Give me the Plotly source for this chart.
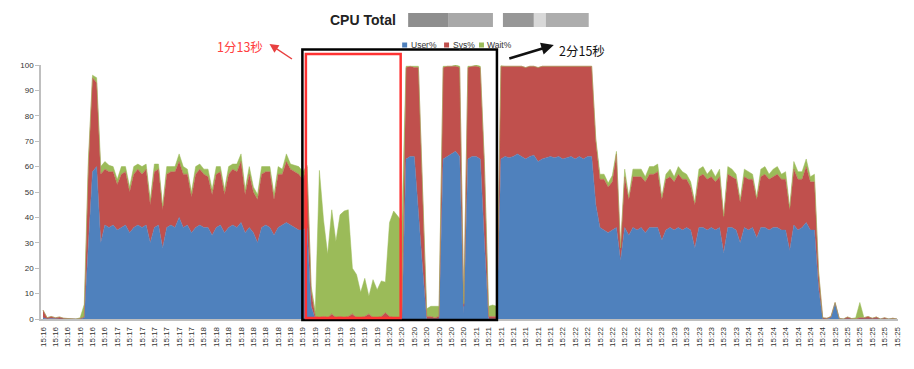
import plotly.graph_objects as go

# ---------------- data ----------------
time_labels = [
    "15:16", "15:16", "15:16", "15:16", "15:16", "15:16",
    "15:17", "15:17", "15:17", "15:17", "15:17", "15:17", "15:17",
    "15:18", "15:18", "15:18", "15:18", "15:18", "15:18", "15:18", "15:18",
    "15:19", "15:19", "15:19", "15:19", "15:19", "15:19", "15:19",
    "15:20", "15:20", "15:20", "15:20", "15:20", "15:20", "15:20",
    "15:21", "15:21", "15:21", "15:21", "15:21", "15:21", "15:21",
    "15:22", "15:22", "15:22", "15:22", "15:22", "15:22", "15:22", "15:22",
    "15:23", "15:23", "15:23", "15:23", "15:23", "15:23", "15:23",
    "15:24", "15:24", "15:24", "15:24", "15:24", "15:24", "15:24",
    "15:25", "15:25", "15:25", "15:25", "15:25", "15:25",
]

user = [
    0.5, 0, 0.2, 0, 0, 0, 0, 0, 0, 0, 0.5, 30, 58, 60, 30,
    37, 36, 37, 35, 36, 37, 34, 36, 37, 36, 37, 30, 36, 37, 28, 36, 37, 36, 40, 36,
    37, 34, 36, 37, 36, 36, 33, 36, 37, 34, 36, 37, 36, 38, 34, 36, 34, 30, 36, 37,
    36, 33, 36, 37, 38, 37, 36, 35, 35, 36, 5,
    0, 0, 0, 0, 0, 0, 0, 0, 0, 0, 0, 0, 0, 0, 0, 0, 0, 0.5, 0, 0, 0, 0,
    63, 64, 64, 40, 20, 0, 0, 0, 0,
    63, 64, 65, 66, 64, 2,
    63, 64, 64, 63, 30, 0, 0, 0,
    63, 64, 63.5, 64, 65, 64, 63, 64, 64.5, 62, 63, 63.5, 64, 63.5, 64, 63, 63.5,
    64, 63, 64, 63, 64, 64, 45,
    36, 35, 34, 35, 36, 23, 36, 33, 36, 35, 36, 34, 36, 36, 36, 31, 35, 36, 35, 36,
    35, 36, 35, 28, 36, 36, 35, 36, 35, 36, 26, 36, 36, 35, 30, 36, 35, 36, 32, 36,
    36, 35, 36, 36, 35, 35, 27, 37, 35, 36, 38, 35, 35, 12,
    0, 0, 0.5, 6, 0, 0, 0, 0, 0, 0, 0, 0, 0, 0, 0, 0, 0, 0, 0,
]

sys_pct = [
    3, 0.5, 0.8, 0.5, 0.8, 0.3, 0.2, 0, 0, 0.2, 0.3, 30, 37, 33, 27,
    22, 22, 21, 18, 21, 21, 16, 21, 22, 21, 22, 15, 22, 22, 15, 21, 21, 22, 22, 21,
    20, 14, 21, 22, 21, 20, 16, 21, 21, 15, 21, 22, 22, 24, 15, 21, 16, 17, 21, 21,
    22, 14, 21, 20, 24, 22, 22, 22, 20, 24, 6,
    1, 0.5, 1, 0.5, 2, 0.5, 1, 0.5, 1, 2, 0.5, 0.5, 1, 2, 0.5, 0.5, 1, 2, 1, 0.5, 0.5, 0.5,
    36, 35.5, 35, 59, 30, 1, 1, 0.5, 1,
    36, 35.5, 34.5, 33.5, 35, 3,
    36, 35.5, 35.5, 36, 30, 1, 1, 1,
    36.5, 35.5, 36, 35.5, 34.5, 35.5, 36, 35.5, 35, 37, 36.5, 36, 35.5, 36, 35.5, 36.5, 36,
    35.5, 36.5, 35.5, 36.5, 35.5, 35.5, 25,
    19, 20, 18, 19, 29, 5, 20, 14, 20, 21, 20, 20, 21, 21, 22, 16, 20, 20, 19, 21,
    20, 19, 17, 17, 20, 21, 20, 20, 19, 20, 14, 21, 20, 20, 16, 20, 20, 19, 15, 20,
    21, 20, 20, 21, 20, 20, 16, 22, 20, 19, 22, 19, 19, 6,
    0.5, 0.3, 0.5, 0.5, 0.3, 0, 0.8, 0.2, 0, 0.5, 0.5, 1, 0.3, 0.8, 0, 0.5, 0, 0.3, 0,
]

wait = [
    0, 0, 0, 0, 0, 0, 0, 0, 0, 0.3, 5, 3, 1, 2, 3,
    3, 2.5, 2, 2, 3, 2, 2, 3, 2, 3, 2, 2, 3, 2, 1.5, 3, 2, 2, 3, 3,
    2, 2, 3, 2, 2, 3, 2, 3, 2, 2, 3, 2, 3, 3, 2, 3, 2, 2, 3, 2,
    2, 2, 3, 2, 3, 2, 2.5, 3, 3, 0.5, 2,
    2, 58, 38, 25, 41, 30, 40, 42, 42, 18, 17, 10, 15, 7, 15, 11, 14, 12, 37, 42, 40, 38,
    0.5, 0, 0.5, 0.5, 2, 3, 4, 4.5, 4,
    0.5, 0, 0, 0.5, 0.5, 1,
    0.5, 0, 0.5, 0.5, 2, 4, 4.5, 4,
    0.2, 0, 0, 0, 0, 0, 0, 0, 0, 0, 0, 0, 0, 0, 0, 0, 0,
    0, 0, 0, 0, 0, 0, 1,
    2, 2, 1.5, 2.5, 1, 0, 3, 1, 3, 3, 3, 2, 3, 3, 3, 1, 2, 3, 2, 3,
    3, 2, 2, 1, 3, 3, 2, 3, 2, 3, 0.5, 3, 3, 2, 1, 3, 3, 2, 1, 3,
    3, 2, 3, 3, 2, 3, 1, 3, 3, 3, 3, 2, 3, 1,
    0, 0, 0, 0, 0, 0, 0, 0, 0.5, 6, 0, 0, 0, 0, 0, 0, 0, 0, 0,
]

series_names = ["User%", "Sys%", "Wait%"]
series_colors = ["#4F81BD", "#C0504D", "#9BBB59"]

# ---------------- figure ----------------
# the page body adds an 8 px margin, so the figure is laid out in page pixels minus OFF
OFF = 8
W, H = 914 - OFF, 369 - OFF
ML, MR, MT, MB = 39 - OFF, 16, 65 - OFF, 50
PW, PH = W - ML - MR, H - MT - MB


def px_x(px):
    return (px - OFF - ML) / PW


def px_y(py):
    return (H - MB - (py - OFF)) / PH


n = len(user)
xs = list(range(n))
label_step = 3
tickvals = xs[::label_step]

fig = go.Figure()
for name, vals, color in zip(series_names, [user, sys_pct, wait], series_colors):
    fig.add_trace(go.Scatter(
        x=xs, y=vals, name=name, mode="lines", stackgroup="cpu",
        line=dict(width=0.5, color=color), fillcolor=color, showlegend=False,
        hoverinfo="skip",
    ))

fig.update_layout(
    width=W, height=H,
    margin=dict(l=ML, r=MR, t=MT, b=MB),
    paper_bgcolor="white", plot_bgcolor="white",
    font=dict(family="Liberation Sans, Arial, sans-serif", color="#333333"),
    title=dict(text="<b>CPU Total</b>", x=(330 - OFF) / W, xanchor="left", xref="container",
               y=1 - (20 - OFF) / H, yanchor="middle", yref="container",
               font=dict(size=14, color="#222222", family="Liberation Sans, Arial, sans-serif")),
    xaxis=dict(
        range=[-0.484, 207.25], tickmode="array", tickvals=tickvals,
        ticktext=time_labels, tickangle=-90, tickfont=dict(size=8, color="#333333"),
        showline=True, linecolor="#bfbfbf", linewidth=1.5, showgrid=False,
        zeroline=False, ticks="outside", ticklen=3, tickcolor="rgba(0,0,0,0)",
    ),
    yaxis=dict(
        range=[0, 100], dtick=10, tick0=0, ticks="outside", ticklen=4,
        tickcolor="#bfbfbf", showline=True, linecolor="#bfbfbf", linewidth=1.5,
        showgrid=False, zeroline=False, tickfont=dict(size=8, color="#333333"),
    ),
)

shapes = []
# redacted part of the title (blurred in the reference)
for x0, x1, col in [(407, 447, "#8e8e8e"), (447, 492, "#a8a8a8"),
                    (502, 533, "#979797"), (533, 545, "#d8d8d8"), (545, 588, "#adadad")]:
    shapes.append(dict(type="rect", xref="paper", yref="paper",
                       x0=px_x(x0), x1=px_x(x1), y0=px_y(27), y1=px_y(13),
                       line=dict(width=0), fillcolor=col, layer="above"))
# legend squares
legend_pos = [401, 443, 478]
for lx, col in zip(legend_pos, series_colors):
    shapes.append(dict(type="rect", xref="paper", yref="paper",
                       x0=px_x(lx), x1=px_x(lx + 5), y0=px_y(47.5), y1=px_y(42.5),
                       line=dict(width=0), fillcolor=col, layer="above"))
# highlight boxes
shapes.append(dict(type="rect", xref="paper", yref="paper",
                   x0=px_x(301), x1=px_x(496), y0=px_y(320), y1=px_y(49.5),
                   line=dict(color="black", width=2.5), fillcolor="rgba(0,0,0,0)", layer="above"))
shapes.append(dict(type="rect", xref="paper", yref="paper",
                   x0=px_x(304.5), x1=px_x(399.5), y0=px_y(318), y1=px_y(54),
                   line=dict(color="#FF3333", width=2.5), fillcolor="rgba(0,0,0,0)", layer="above"))
fig.update_layout(shapes=shapes)

annotations = []
for lx, name in zip(legend_pos, series_names):
    annotations.append(dict(xref="paper", yref="paper", x=px_x(lx + 6.5), y=px_y(45),
                            xanchor="left", yanchor="middle", text=name, showarrow=False,
                            font=dict(size=8.5, color="#333333")))
cjk = "Noto Sans CJK SC, sans-serif"
annotations.append(dict(xref="paper", yref="paper", x=px_x(238), y=px_y(47),
                        text="1分13秒", showarrow=False, xanchor="center", yanchor="middle",
                        font=dict(size=12.5, color="#FF4040", family=cjk)))
annotations.append(dict(xref="paper", yref="paper", x=px_x(581), y=px_y(50),
                        text="2分15秒", showarrow=False, xanchor="center", yanchor="middle",
                        font=dict(size=12.5, color="#111111", family=cjk)))
# arrows
annotations.append(dict(xref="paper", yref="paper", x=px_x(268), y=px_y(44), text="",
                        showarrow=True, ax=24, ay=16, arrowhead=2, arrowsize=1.2,
                        arrowwidth=1.5, arrowcolor="#E84040"))
annotations.append(dict(xref="paper", yref="paper", x=px_x(553), y=px_y(45), text="",
                        showarrow=True, ax=-46, ay=14, arrowhead=2, arrowsize=1,
                        arrowwidth=2.5, arrowcolor="#111111"))
fig.update_layout(annotations=annotations)

fig.write_html("out.html")
